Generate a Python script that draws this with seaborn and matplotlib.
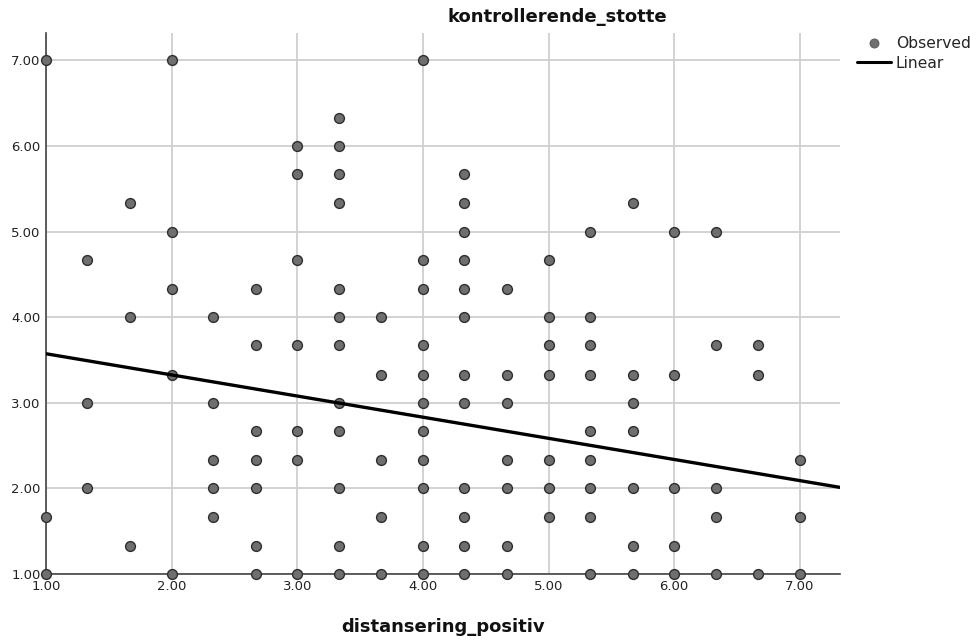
import matplotlib
matplotlib.use("Agg")
import matplotlib.pyplot as plt
from matplotlib.lines import Line2D
import numpy as np
import pandas as pd
import seaborn as sns

# Observed cases: distansering_positiv (x) against kontrollerende_stotte (y)
distansering_positiv = (
    [1.00] * 3 + [1.33] * 3 + [1.67] * 3 + [2.00] * 5 + [2.33] * 5 +
    [2.67] * 7 + [3.00] * 7 + [3.33] * 12 + [3.67] * 5 + [4.00] * 11 +
    [4.33] * 12 + [4.67] * 7 + [5.00] * 7 + [5.33] * 9 + [5.67] * 7 +
    [6.00] * 5 + [6.33] * 5 + [6.67] * 3 + [7.00] * 3
)
kontrollerende_stotte = [
    7.00, 1.67, 1.00,
    4.67, 3.00, 2.00,
    5.33, 4.00, 1.33,
    7.00, 5.00, 4.33, 3.33, 1.00,
    4.00, 3.00, 2.33, 2.00, 1.67,
    4.33, 3.67, 2.67, 2.33, 2.00, 1.33, 1.00,
    6.00, 5.67, 4.67, 3.67, 2.67, 2.33, 1.00,
    6.33, 6.00, 5.67, 5.33, 4.33, 4.00, 3.67, 3.00, 2.67, 2.00, 1.33, 1.00,
    4.00, 3.33, 2.33, 1.67, 1.00,
    7.00, 4.67, 4.33, 3.67, 3.33, 3.00, 2.67, 2.33, 2.00, 1.33, 1.00,
    5.67, 5.33, 5.00, 4.67, 4.33, 4.00, 3.33, 3.00, 2.00, 1.67, 1.33, 1.00,
    4.33, 3.33, 3.00, 2.33, 2.00, 1.33, 1.00,
    4.67, 4.00, 3.67, 3.33, 2.33, 2.00, 1.67,
    5.00, 4.00, 3.67, 3.33, 2.67, 2.33, 2.00, 1.67, 1.00,
    5.33, 3.33, 3.00, 2.67, 2.00, 1.33, 1.00,
    5.00, 3.33, 2.00, 1.33, 1.00,
    5.00, 3.67, 2.00, 1.67, 1.00,
    3.67, 3.33, 1.00,
    2.33, 1.67, 1.00,
]

# Linear model estimates
intercept = 3.82
slope = -0.247

tick_values = [1, 2, 3, 4, 5, 6, 7]
tick_labels = ["1.00", "2.00", "3.00", "4.00", "5.00", "6.00", "7.00"]
axis_min, axis_max = 1.0, 7.32

obs = pd.DataFrame({"distansering_positiv": distansering_positiv,
                    "kontrollerende_stotte": kontrollerende_stotte})
fit_x = np.array([axis_min, axis_max])
fit = pd.DataFrame({"distansering_positiv": fit_x,
                    "kontrollerende_stotte": intercept + slope * fit_x})

sns.set_theme(style="white")
plt.rcParams["font.family"] = ["DejaVu Sans"]

fig = plt.figure(figsize=(9.77, 6.42), dpi=100)
ax = fig.add_axes([46 / 977, 1 - 574 / 642, (840 - 46) / 977, (574 - 33) / 642])

ax.grid(True, color="#cfcfcf", linewidth=1.3, zorder=0)
ax.set_axisbelow(True)

sns.scatterplot(data=obs, x="distansering_positiv", y="kontrollerende_stotte",
                ax=ax, s=50, color="#6f6f6f", edgecolor="#2e2e2e",
                linewidth=1.0, zorder=3, clip_on=False, legend=False)
sns.lineplot(data=fit, x="distansering_positiv", y="kontrollerende_stotte",
             ax=ax, color="black", linewidth=2.4, zorder=4, legend=False)

ax.set_xlim(axis_min, axis_max)
ax.set_ylim(axis_min, axis_max)
ax.set_xticks(tick_values)
ax.set_xticklabels(tick_labels)
ax.set_yticks(tick_values)
ax.set_yticklabels(tick_labels)
ax.tick_params(axis="both", length=0, labelsize=9.5, colors="#222222", pad=4)

for side in ("top", "right"):
    ax.spines[side].set_visible(False)
for side in ("left", "bottom"):
    ax.spines[side].set_color("#444444")
    ax.spines[side].set_linewidth(1.2)

ax.set_xlabel("")
ax.set_ylabel("")
fig.text(443 / 977, 1 - 627 / 642, "distansering_positiv", ha="center",
         va="center", fontsize=13, fontweight="bold", color="#111111")
fig.text(557 / 977, 1 - 17 / 642, "kontrollerende_stotte", ha="center",
         va="center", fontsize=13, fontweight="bold", color="#111111")

handles = [
    Line2D([], [], marker="o", linestyle="none", markersize=6.5,
           markerfacecolor="#6f6f6f", markeredgecolor="#555555",
           markeredgewidth=0.6, label="Observed"),
    Line2D([], [], color="black", linewidth=2.2, label="Linear"),
]
fig.legend(handles=handles, loc="upper left",
           bbox_to_anchor=(857 / 977, 1 - 36 / 642), frameon=False,
           fontsize=11.2, handlelength=2.2, handletextpad=0.3,
           labelspacing=0.3, borderaxespad=0, borderpad=0)

fig.savefig("out.png", dpi=100)
